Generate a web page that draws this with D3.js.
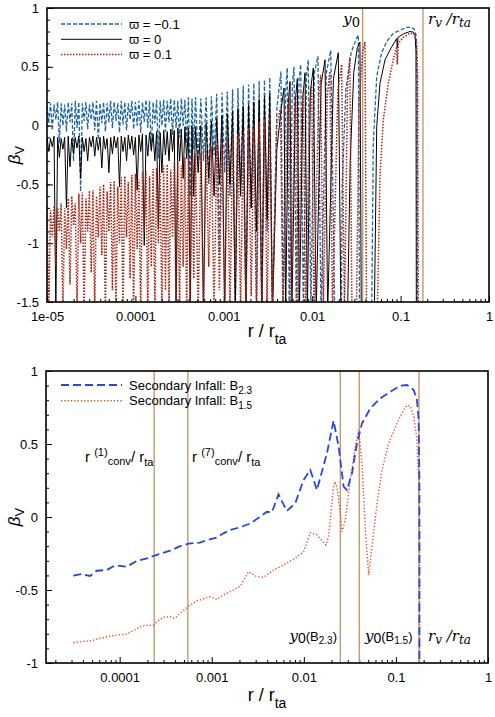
<!DOCTYPE html>
<html>
<head>
<meta charset="utf-8">
<script src="https://cdn.jsdelivr.net/npm/d3@7"></script>
<style>
body { margin: 0; background: #fff; }
text { font-family: "Liberation Sans", Arial, sans-serif; }
</style>
</head>
<body>
<div id="chart"></div>
<script>
// top panel: pairs of [log10(r/r_ta), beta_v]
const blueNeg = [
[-5.00,0.17],[-4.98,0.02],[-4.96,0.19],[-4.94,-0.04],[-4.92,0.18],[-4.90,0.05],[-4.88,0.20],[-4.86,-0.15],[-4.84,0.19],[-4.82,0.00],
[-4.80,0.18],[-4.78,-0.05],[-4.76,0.20],[-4.74,0.03],[-4.72,0.19],[-4.70,-0.30],[-4.68,0.21],[-4.66,-0.02],[-4.64,0.20],[-4.62,-0.56],
[-4.60,0.19],[-4.58,0.04],[-4.56,0.20],[-4.54,-0.03],[-4.52,0.18],[-4.50,0.05],[-4.48,0.20],[-4.46,-0.04],[-4.44,0.21],[-4.42,-0.12],
[-4.40,0.19],[-4.38,0.02],[-4.36,0.20],[-4.34,-0.05],[-4.32,0.19],[-4.30,0.03],[-4.28,0.21],[-4.26,-0.02],[-4.24,0.20],[-4.22,0.04],
[-4.20,0.19],[-4.18,-0.06],[-4.16,0.21],[-4.14,0.01],[-4.12,0.20],[-4.10,-0.04],[-4.08,0.19],[-4.06,0.05],[-4.04,0.21],[-4.02,-0.03],
[-4.00,0.20],[-3.98,0.00],[-3.96,0.21],[-3.94,-0.06],[-3.92,0.20],[-3.90,0.03],[-3.88,0.22],[-3.86,-0.02],[-3.84,0.21],[-3.82,-0.22],
[-3.80,0.20],[-3.78,0.02],[-3.76,0.22],[-3.74,-0.28],[-3.72,0.21],[-3.70,0.00],[-3.68,0.22],[-3.66,-0.05],[-3.64,0.21],[-3.62,0.03],
[-3.60,0.23],[-3.58,-0.08],[-3.56,0.22],[-3.54,-0.02],[-3.52,0.21],[-3.50,-0.10],[-3.48,0.23],[-3.46,0.00],[-3.44,0.22],[-3.42,-0.15],
[-3.40,0.24],[-3.38,-0.60],[-3.36,0.23],[-3.34,-0.20],[-3.32,0.24],
[-3.29,-0.30],[-3.26,0.23],[-3.23,-0.30],[-3.20,0.24],[-3.17,-0.50],[-3.14,0.25],[-3.11,-0.25],[-3.08,0.27],[-3.05,-1.10],[-3.02,0.28],
[-2.99,-0.40],[-2.96,0.29],[-2.93,-0.60],[-2.90,0.31],[-2.87,-1.6],[-2.84,0.32],[-2.81,-0.50],[-2.78,0.34],[-2.75,-1.6],[-2.72,0.35],
[-2.69,-0.70],[-2.66,0.36],[-2.63,-1.6],[-2.60,0.38],[-2.57,-1.6],[-2.54,0.39],[-2.51,-0.90],[-2.48,0.41],[-2.45,-1.6],
[-2.40,0.15],[-2.353,0.46],[-2.33,-1.6],[-2.30,0.30],[-2.282,0.49],[-2.26,-1.6],[-2.225,0.35],[-2.206,0.50],[-2.18,-1.6],[-2.15,0.38],
[-2.13,0.52],[-2.10,-1.6],[-2.065,0.42],[-2.044,0.56],[-2.015,-1.6],[-1.975,0.45],[-1.935,0.59],[-1.90,-1.6],[-1.84,0.45],[-1.79,0.64],
[-1.745,-1.6],[-1.67,-1.6],[-1.66,-0.5],[-1.62,0.30],[-1.56,0.62],[-1.50,0.74],[-1.478,0.77],[-1.465,-1.6],
[-1.327,-1.6],[-1.309,-0.15],[-1.27,0.42],[-1.214,0.62],[-1.157,0.715],[-1.083,0.785],[-1.007,0.81],[-0.931,0.835],[-0.874,0.835],
[-0.845,0.82],[-0.826,0.77],[-0.814,0.42],[-0.81,-1.6]
]

const blackZero = [
[-5.00,-0.10],[-4.98,-0.22],[-4.96,-0.11],[-4.94,-0.18],[-4.92,-0.09],[-4.90,-1.6],[-4.88,-0.10],[-4.86,-0.27],[-4.84,-0.11],[-4.82,-0.20],
[-4.80,-0.10],[-4.78,-0.70],[-4.76,-0.09],[-4.74,-0.35],[-4.72,-0.11],[-4.70,-0.24],[-4.68,-0.10],[-4.66,-0.19],[-4.64,-0.09],[-4.62,-0.45],
[-4.60,-0.10],[-4.58,-0.22],[-4.56,-0.11],[-4.54,-0.30],[-4.52,-0.10],[-4.50,-0.18],[-4.48,-0.09],[-4.46,-0.26],[-4.44,-0.10],[-4.42,-0.21],
[-4.40,-0.10],[-4.38,-0.36],[-4.36,-0.09],[-4.34,-0.20],[-4.32,-0.11],[-4.30,-0.40],[-4.28,-0.10],[-4.26,-0.24],[-4.24,-0.09],[-4.22,-0.19],
[-4.20,-0.10],[-4.18,-0.52],[-4.16,-0.09],[-4.14,-0.22],[-4.12,-0.10],[-4.10,-0.30],[-4.08,-0.08],[-4.06,-0.20],[-4.04,-0.09],[-4.02,-0.25],
[-4.00,-0.10],[-3.98,-0.55],[-3.96,-0.08],[-3.94,-0.22],[-3.92,-0.07],[-3.90,-1.02],[-3.88,-0.08],[-3.86,-0.26],[-3.84,-0.06],[-3.82,-0.21],
[-3.80,-0.07],[-3.78,-0.30],[-3.76,-0.05],[-3.74,-0.88],[-3.72,-0.06],[-3.70,-0.40],[-3.68,-0.04],[-3.66,-0.25],[-3.64,-0.05],[-3.62,-0.30],
[-3.60,-0.03],[-3.58,-0.22],[-3.56,-0.04],[-3.54,-1.6],[-3.52,-0.02],[-3.50,-0.30],[-3.48,-0.03],[-3.46,-0.45],[-3.44,-0.01],[-3.42,-0.28],
[-3.40,-0.02],[-3.38,-1.6],[-3.36,0.00],[-3.34,-0.60],[-3.32,-0.01],
[-3.29,-0.40],[-3.26,0.00],[-3.23,-1.6],[-3.20,0.02],[-3.17,-0.45],[-3.14,0.04],[-3.11,-0.60],[-3.08,0.06],[-3.05,-0.50],[-3.02,0.08],
[-2.99,-1.6],[-2.96,0.10],[-2.93,-0.50],[-2.90,0.12],[-2.87,-1.6],[-2.84,0.14],[-2.81,-0.60],[-2.78,0.16],[-2.75,-1.6],[-2.72,0.18],
[-2.69,-0.70],[-2.66,0.20],[-2.63,-0.90],[-2.60,0.22],[-2.57,-1.6],[-2.54,0.25],[-2.51,-0.80],[-2.48,0.27],[-2.45,-1.6],
[-2.40,-0.20],[-2.35,0.15],[-2.319,0.32],[-2.30,-1.6],[-2.27,0.20],[-2.251,0.375],[-2.23,-1.6],[-2.19,0.22],[-2.168,0.40],[-2.145,-1.6],
[-2.105,0.25],[-2.081,0.45],[-2.055,-1.6],[-2.02,0.30],[-1.987,0.49],[-1.955,-1.6],[-1.90,0.35],[-1.855,0.56],[-1.825,-1.6],[-1.76,0.40],
[-1.705,0.62],[-1.675,-1.6],[-1.60,-1.6],[-1.57,-0.30],[-1.53,0.45],[-1.49,0.66],[-1.46,0.71],[-1.445,-1.6],
[-1.297,-1.6],[-1.27,-0.006],[-1.233,0.36],[-1.176,0.56],[-1.101,0.67],[-1.044,0.74],[-1.037,0.66],[-1.03,0.75],[-0.97,0.78],
[-0.894,0.80],[-0.857,0.795],[-0.837,0.77],[-0.826,0.64],[-0.822,-1.6]
]

const redPos = [
[-5.00,-0.69],[-4.98,-1.6],[-4.96,-0.72],[-4.94,-0.95],[-4.92,-0.68],[-4.90,-1.20],[-4.88,-0.70],[-4.86,-0.90],[-4.84,-0.66],[-4.82,-1.6],
[-4.80,-0.70],[-4.78,-1.05],[-4.76,-0.62],[-4.74,-1.35],[-4.72,-0.60],[-4.70,-0.85],[-4.68,-0.66],[-4.66,-1.6],[-4.64,-0.58],[-4.62,-1.00],
[-4.60,-0.57],[-4.58,-1.6],[-4.56,-0.62],[-4.54,-0.90],[-4.52,-0.555],[-4.50,-1.25],[-4.48,-0.55],[-4.46,-1.6],[-4.44,-0.60],[-4.42,-0.95],
[-4.40,-0.52],[-4.38,-1.10],[-4.36,-0.50],[-4.34,-1.6],[-4.32,-0.56],[-4.30,-0.90],[-4.28,-0.48],[-4.26,-1.40],[-4.24,-0.47],[-4.22,-1.6],
[-4.20,-0.52],[-4.18,-1.00],[-4.16,-0.44],[-4.14,-1.6],[-4.12,-0.43],[-4.10,-0.95],[-4.08,-0.48],[-4.06,-1.30],[-4.04,-0.42],[-4.02,-1.6],
[-4.00,-0.41],[-3.98,-1.05],[-3.96,-0.46],[-3.94,-1.6],[-3.92,-0.39],[-3.90,-0.90],[-3.88,-0.38],[-3.86,-1.6],[-3.84,-0.43],[-3.82,-1.20],
[-3.80,-0.37],[-3.78,-1.6],[-3.76,-0.36],[-3.74,-1.00],[-3.72,-0.41],[-3.70,-1.6],[-3.68,-0.34],[-3.66,-1.40],[-3.64,-0.33],[-3.62,-1.6],
[-3.60,-0.38],[-3.58,-0.95],[-3.56,-0.30],[-3.54,-1.6],[-3.52,-0.29],[-3.50,-1.6],[-3.48,-0.34],[-3.46,-1.20],[-3.44,-0.27],[-3.42,-1.6],
[-3.40,-0.26],[-3.38,-1.6],[-3.36,-0.30],[-3.34,-1.30],[-3.32,-0.24],
[-3.29,-1.6],[-3.26,-0.23],[-3.23,-1.6],[-3.20,-0.21],[-3.17,-1.20],[-3.14,-0.18],[-3.11,-1.6],[-3.08,-0.16],[-3.05,-1.40],[-3.02,-0.14],
[-2.99,-1.6],[-2.96,-0.12],[-2.93,-1.6],[-2.90,-0.10],[-2.87,-1.30],[-2.84,-0.07],[-2.81,-1.6],[-2.78,-0.05],[-2.75,-1.6],[-2.72,-0.02],
[-2.69,-1.45],[-2.66,0.00],[-2.63,-1.6],[-2.60,0.03],[-2.57,-1.6],[-2.54,0.06],[-2.51,-1.6],[-2.48,0.09],[-2.45,-1.6],
[-2.40,0.00],[-2.36,0.15],[-2.33,-1.6],[-2.28,0.10],[-2.259,0.235],[-2.24,-1.6],[-2.20,0.10],[-2.183,0.26],[-2.16,-1.6],[-2.12,0.12],
[-2.10,0.29],[-2.075,-1.6],[-2.03,0.15],[-2.006,0.35],[-1.98,-1.6],[-1.93,0.20],[-1.904,0.43],[-1.875,-1.6],[-1.83,0.25],[-1.80,0.46],
[-1.77,-1.6],[-1.71,0.30],[-1.667,0.52],[-1.635,-1.6],[-1.60,0.35],[-1.575,0.58],[-1.55,-1.6],[-1.50,-1.6],[-1.47,0.20],[-1.43,0.62],
[-1.403,0.71],[-1.385,-1.6],
[-1.263,-1.6],[-1.233,-0.43],[-1.196,0.05],[-1.139,0.36],[-1.083,0.56],[-1.044,0.67],[-1.037,0.52],[-1.026,0.70],[-0.97,0.75],
[-0.894,0.785],[-0.849,0.78],[-0.818,0.715],[-0.807,0.42],[-0.80,-1.6]
]

// bottom panel: pairs of [log10(r/r_ta), beta_v]
const infallB23 = [
[-4.503,-0.402],[-4.412,-0.39],[-4.322,-0.404],[-4.249,-0.368],[-4.140,-0.363],[-4.05,-0.331],[-3.923,-0.34],[-3.814,-0.301],
[-3.705,-0.283],[-3.579,-0.256],[-3.452,-0.231],[-3.343,-0.20],[-3.253,-0.183],[-3.126,-0.175],[-3.053,-0.158],[-2.945,-0.14],
[-2.873,-0.112],[-2.80,-0.089],[-2.691,-0.07],[-2.583,-0.045],[-2.474,0.002],[-2.401,0.036],[-2.347,0.032],[-2.275,0.155],
[-2.184,0.041],[-2.093,0.094],[-2.003,0.253],[-1.93,0.322],[-1.858,0.185],[-1.749,0.436],[-1.677,0.66],[-1.622,0.482],
[-1.568,0.208],[-1.532,0.185],[-1.477,0.299],[-1.423,0.505],[-1.368,0.642],[-1.278,0.744],[-1.17,0.813],[-1.061,0.858],
[-0.952,0.899],[-0.879,0.904],[-0.807,0.87],[-0.771,0.801],[-0.753,0.664],[-0.745,0.253],[-0.745,-1.1]
]
const infallB15 = [
[-4.503,-0.861],[-4.395,-0.852],[-4.303,-0.847],[-4.213,-0.831],[-4.104,-0.815],[-4.014,-0.808],[-3.923,-0.801],[-3.851,-0.779],
[-3.76,-0.747],[-3.705,-0.742],[-3.634,-0.74],[-3.579,-0.71],[-3.525,-0.687],[-3.452,-0.683],[-3.398,-0.694],[-3.343,-0.66],
[-3.253,-0.612],[-3.162,-0.575],[-3.09,-0.56],[-3.017,-0.546],[-2.945,-0.564],[-2.873,-0.534],[-2.764,-0.50],[-2.691,-0.473],
[-2.601,-0.375],[-2.51,-0.409],[-2.438,-0.413],[-2.329,-0.363],[-2.221,-0.329],[-2.093,-0.283],[-2.003,-0.238],[-1.93,-0.108],
[-1.858,-0.123],[-1.76,-0.192],[-1.732,-0.135],[-1.677,0.208],[-1.659,0.242],[-1.634,0.185],[-1.604,0.025],[-1.586,-0.10],
[-1.55,-0.02],[-1.496,0.253],[-1.441,0.482],[-1.405,0.596],[-1.368,0.368],[-1.332,-0.089],[-1.296,-0.397],[-1.26,-0.203],
[-1.205,0.094],[-1.151,0.322],[-1.079,0.505],[-0.988,0.642],[-0.916,0.733],[-0.879,0.767],[-0.843,0.756],[-0.807,0.687],
[-0.771,0.528],[-0.753,0.253],[-0.743,-0.203],[-0.743,-1.1]
]

const topXTicks = [1e-5, 1e-4, 1e-3, 1e-2, 1e-1, 1]
const topXLabels = ['1e-05', '0.0001', '0.001', '0.01', '0.1', '1']
const topYTicks = [1, 0.5, 0, -0.5, -1, -1.5]
const topYLabels = ['1', '0.5', '0', '-0.5', '-1', '-1.5']
const botXTicks = [1e-4, 1e-3, 1e-2, 1e-1, 1]
const botXLabels = ['0.0001', '0.001', '0.01', '0.1', '1']
const botYTicks = [1, 0.5, 0, -0.5, -1]
const botYLabels = ['1', '0.5', '0', '-0.5', '-1']
const topMarks = [0.0372, 0.179]                        // y0, r_v/r_ta
const botMarks = [2.37e-4, 5.5e-4, 0.0249, 0.040, 0.178] // r1conv, r7conv, y0(B2.3), y0(B1.5), r_v
const botXMin = 1.585e-5

const W = 495, H = 717
const tan = '#c49a6c'

const svg = d3.select('#chart').append('svg')
  .attr('width', W).attr('height', H)

const xTop = d3.scaleLog().domain([1e-5, 1]).range([47, 489])
const yTop = d3.scaleLinear().domain([-1.5, 1]).range([302, 8])
const xBot = d3.scaleLog().domain([botXMin, 1]).range([46, 488])
const yBot = d3.scaleLinear().domain([-1, 1]).range([663, 371])

const font = 'Liberation Sans, Arial, sans-serif'

function drawAxes(x, y, xt, xl, yt, yl) {
  const [left, right] = x.range()
  const [bottom, top] = y.range()
  const isMajor = v => Math.abs(Math.log10(v) - Math.round(Math.log10(v))) < 1e-6

  svg.append('g')
    .attr('transform', 'translate(0,' + bottom + ')')
    .call(d3.axisBottom(x).tickValues(x.ticks().filter(v => !isMajor(v))).tickSize(-3).tickFormat(''))
    .call(g => g.select('.domain').remove())

  svg.append('g')
    .attr('transform', 'translate(0,' + bottom + ')')
    .call(d3.axisBottom(x).tickValues(xt).tickSize(-6).tickPadding(10).tickFormat((d, i) => xl[i]))
    .attr('font-size', 13).attr('font-family', font)
    .call(g => g.select('.domain').remove())

  const d = y.domain()
  const minors = d3.range(Math.round(d[0] * 10), Math.round(d[1] * 10) + 1).map(v => v / 10)
  svg.append('g')
    .attr('transform', 'translate(' + left + ',0)')
    .call(d3.axisLeft(y).tickValues(minors).tickSize(-3).tickFormat(''))
    .call(g => g.select('.domain').remove())

  svg.append('g')
    .attr('transform', 'translate(' + left + ',0)')
    .call(d3.axisLeft(y).tickValues(yt).tickSize(-6).tickPadding(8).tickFormat((v, i) => yl[i]))
    .attr('font-size', 13).attr('font-family', font)
    .call(g => g.select('.domain').remove())
}

function frame(x, y) {
  const [left, right] = x.range()
  const [bottom, top] = y.range()
  svg.append('rect')
    .attr('x', left).attr('y', top)
    .attr('width', right - left).attr('height', bottom - top)
    .attr('fill', 'none').attr('stroke', '#000').attr('stroke-width', 1.6)
}

function clip(id, x, y) {
  const [left, right] = x.range()
  const [bottom, top] = y.range()
  svg.append('clipPath').attr('id', id)
    .append('rect')
    .attr('x', left).attr('y', top)
    .attr('width', right - left).attr('height', bottom - top)
}

function series(data, x, y, clipId, color, width, dash) {
  const line = d3.line()
    .x(d => x(Math.pow(10, d[0])))
    .y(d => y(d[1]))
  svg.append('path')
    .datum(data)
    .attr('clip-path', 'url(#' + clipId + ')')
    .attr('d', line)
    .attr('fill', 'none')
    .attr('stroke', color)
    .attr('stroke-width', width)
    .attr('stroke-dasharray', dash)
}

function marks(vals, x, y, clipId) {
  const [bottom, top] = y.range()
  svg.append('g').attr('clip-path', 'url(#' + clipId + ')')
    .selectAll('line')
    .data(vals)
    .enter()
    .append('line')
    .attr('x1', d => x(d)).attr('x2', d => x(d))
    .attr('y1', top).attr('y2', bottom)
    .attr('stroke', tan)
    .attr('stroke-width', 1.4)
}

// ---------- top panel ----------
clip('clipTop', xTop, yTop)
drawAxes(xTop, yTop, topXTicks, topXLabels, topYTicks, topYLabels)
marks(topMarks, xTop, yTop, 'clipTop')
series(blueNeg, xTop, yTop, 'clipTop', '#1e66a6', 1.3, '4,2')
series(blackZero, xTop, yTop, 'clipTop', '#000', 1.0, null)
series(redPos, xTop, yTop, 'clipTop', '#ac2212', 1.5, '1.5,1.5')
frame(xTop, yTop)

// legend top
const topLegend = [
  {label: 'ϖ = −0.1', color: '#1e66a6', w: 1.3, dash: '4,2'},
  {label: 'ϖ = 0', color: '#000', w: 1.0, dash: null},
  {label: 'ϖ = 0.1', color: '#ac2212', w: 1.5, dash: '1.5,1.5'}
]
topLegend.forEach((d, i) => {
  const yy = 24 + i * 15.3
  svg.append('line')
    .attr('x1', 61).attr('x2', 122).attr('y1', yy).attr('y2', yy)
    .attr('stroke', d.color).attr('stroke-width', d.w).attr('stroke-dasharray', d.dash)
  svg.append('text')
    .attr('x', 129).attr('y', yy + 4.5)
    .style('font-size', '13px')
    .text(d.label)
})

// annotations top
const y0Top = svg.append('text')
  .attr('x', 360).attr('y', 24)
  .attr('text-anchor', 'end')
  .style('font-family', 'DejaVu Serif, Liberation Serif, serif')
y0Top.append('tspan').style('font-style', 'italic').style('font-size', '15px').text('y')
y0Top.append('tspan').style('font-size', '13px').attr('dy', 3).text('0')

function rvLabel(xPos, yPos) {
  const t = svg.append('text')
    .attr('x', xPos).attr('y', yPos)
    .style('font-family', 'DejaVu Serif, Liberation Serif, serif')
    .style('font-style', 'italic')
  t.append('tspan').style('font-size', '15px').text('r')
  t.append('tspan').style('font-size', '12px').attr('dy', 3).text('v')
  t.append('tspan').style('font-size', '15px').attr('dy', -3).text(' /r')
  t.append('tspan').style('font-size', '12px').attr('dy', 3).text('ta')
}
rvLabel(428, 24)

// axis titles
function xTitle(cx, baseY) {
  const t = svg.append('text')
    .attr('x', cx).attr('y', baseY)
    .attr('text-anchor', 'middle')
  t.append('tspan').style('font-size', '18px').text('r / r')
  t.append('tspan').style('font-size', '14px').attr('dy', 7).text('ta')
}
function yTitle(xPos, cy) {
  const t = svg.append('text')
    .attr('transform', 'translate(' + xPos + ',' + cy + ') rotate(-90)')
    .attr('text-anchor', 'middle')
  t.append('tspan').style('font-size', '17px').style('font-style', 'italic').text('β')
  t.append('tspan').style('font-size', '13px').attr('dy', 4).text('V')
}
xTitle(267, 337)
yTitle(20, 155)

// ---------- bottom panel ----------
clip('clipBot', xBot, yBot)
drawAxes(xBot, yBot, botXTicks, botXLabels, botYTicks, botYLabels)
marks(botMarks, xBot, yBot, 'clipBot')
series(infallB15, xBot, yBot, 'clipBot', '#ee4a2c', 1.4, '1.3,2')
series(infallB23, xBot, yBot, 'clipBot', '#2846da', 1.8, '8,4')
frame(xBot, yBot)

const botLegend = [
  {label: 'Secondary Infall: B', sub: '2.3', color: '#2846da', w: 1.8, dash: '8,4'},
  {label: 'Secondary Infall: B', sub: '1.5', color: '#ee4a2c', w: 1.4, dash: '1.3,2'}
]
botLegend.forEach((d, i) => {
  const yy = 385 + i * 15.7
  svg.append('line')
    .attr('x1', 61).attr('x2', 122).attr('y1', yy).attr('y2', yy)
    .attr('stroke', d.color).attr('stroke-width', d.w).attr('stroke-dasharray', d.dash)
  const t = svg.append('text')
    .attr('x', 129).attr('y', yy + 4.5)
    .style('font-size', '13px')
  t.append('tspan').text(d.label)
  t.append('tspan').style('font-size', '10px').attr('dy', 4).text(d.sub)
})

function convLabel(xPos, yPos, n) {
  const t = svg.append('text').attr('x', xPos).attr('y', yPos)
  t.append('tspan').style('font-size', '15px').text('r ')
  t.append('tspan').style('font-size', '11px').attr('dy', -6).text('(' + n + ')')
  t.append('tspan').style('font-size', '11px').attr('dy', 9).text('conv')
  t.append('tspan').style('font-size', '15px').attr('dy', -3).text('/ r')
  t.append('tspan').style('font-size', '11px').attr('dy', 4).text('ta')
}
convLabel(85, 462, 1)
convLabel(192, 462, 7)

function y0Label(xPos, yPos, sub, anchor) {
  const t = svg.append('text').attr('x', xPos).attr('y', yPos).attr('text-anchor', anchor)
  t.append('tspan').style('font-family', 'DejaVu Serif, Liberation Serif, serif')
    .style('font-style', 'italic').style('font-size', '15px').text('y')
  t.append('tspan').style('font-size', '14px').attr('dy', 2).text('0')
  t.append('tspan').style('font-size', '13px').attr('dy', -2).text('(B')
  t.append('tspan').style('font-size', '10px').attr('dy', 3).text(sub)
  t.append('tspan').style('font-size', '13px').attr('dy', -3).text(')')
}
y0Label(337, 641, '2.3', 'end')
y0Label(365, 641, '1.5', 'start')
rvLabel(428, 641)

xTitle(267, 701)
yTitle(20, 517)
</script>
</body>
</html>
